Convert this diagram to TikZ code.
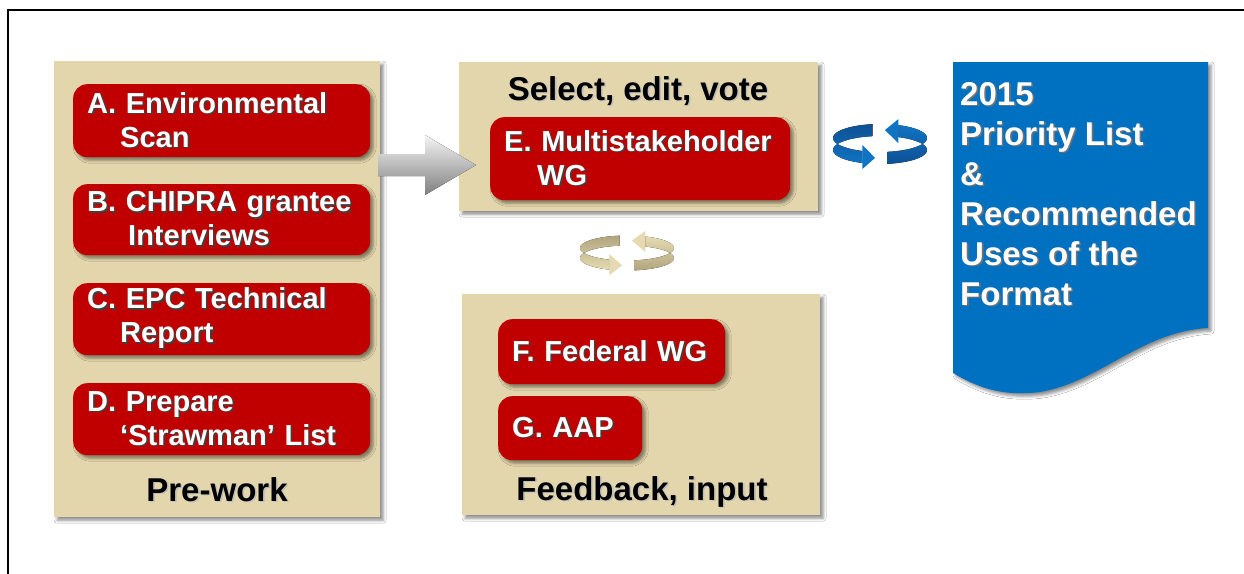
\documentclass[tikz,border=0pt]{standalone}
\usepackage{fontspec}
\setmainfont{Liberation Sans}
\usetikzlibrary{shadows.blur,calc}
\definecolor{boxred}{RGB}{192,0,0}
\definecolor{beige}{RGB}{227,214,172}
\definecolor{docblue}{RGB}{0,112,192}
\definecolor{bluedark}{RGB}{14,80,148}
\definecolor{bluelight}{RGB}{16,116,196}
\definecolor{beigedark}{RGB}{176,165,125}
\definecolor{beigelight}{RGB}{230,218,178}
\newcommand\shd[2]{\leavevmode\rlap{\kern1.6pt\raisebox{-1.6pt}{\textcolor{#1}{#2}}}#2}
% cycle icon: cx cy rx ry h e dark light
\newcommand\cycicon[8]{%
  \fill[top color=#7, bottom color=#8]
    plot[domain=261:112,samples=40,variable=\t] ({#1+#3*cos(\t)},{#2+#4*sin(\t)})
    -- plot[domain=112:261,samples=40,variable=\t] ({#1+#3*cos(\t)},{#2+#5+#4*sin(\t)}) -- cycle;
  \fill[#8] ({#1+#3*cos(112)},{#2+#4*sin(112)-#6})
    -- ({#1+#3*cos(112)},{#2+#4*sin(112)+#5+#6})
    -- ({#1+#3*cos(96)},{#2+#4*sin(96)+#5/2}) -- cycle;
  \fill[top color=#8, bottom color=#7]
    plot[domain=81:-67,samples=40,variable=\t] ({#1+#3*cos(\t)},{#2+#4*sin(\t)})
    -- plot[domain=-67:81,samples=40,variable=\t] ({#1+#3*cos(\t)},{#2+#5+#4*sin(\t)}) -- cycle;
  \fill[#8] ({#1+#3*cos(-67)},{#2+#4*sin(-67)-#6})
    -- ({#1+#3*cos(-67)},{#2+#4*sin(-67)+#5+#6})
    -- ({#1+#3*cos(-84)},{#2+#4*sin(-84)+#5/2}) -- cycle;
}
\begin{document}
\begin{tikzpicture}[x=1pt,y=-1pt,
  pshadow/.style={blur shadow={shadow xshift=3pt,shadow yshift=-3pt,shadow blur radius=3pt,shadow opacity=45}},
  bgbox/.style={rectangle,fill=beige,draw=none,anchor=north west,inner sep=0pt,pshadow},
  redbox/.style={rectangle,fill=boxred,rounded corners=14pt,anchor=north west,inner xsep=14pt,inner ysep=0pt,
    align=left,text=white,font=\fontsize{29}{34}\selectfont\bfseries,pshadow},
  title/.style={anchor=base,inner sep=0pt,text=black,font=\fontsize{33}{38}\selectfont\bfseries},
  doctext/.style={anchor=north west,inner sep=0pt,align=left,text=white,font=\fontsize{33}{40}\selectfont\bfseries}
]
\useasboundingbox (0,0) rectangle (1244,573);
\fill[white] (0,0) rectangle (1244,573);
% frame
\draw[line width=2pt] (8,580) -- (8,10) -- (1250,10);

% background panels
\node[bgbox,minimum width=326pt,minimum height=456pt] (pre) at (54,61) {};
\node[bgbox,minimum width=359pt,minimum height=149pt] (sel) at (459,62) {};
\node[bgbox,minimum width=358pt,minimum height=221pt] (fb) at (462,294) {};

% grey block arrow from pre-work to select
\coordinate (gs) at ($(pre.north east)+(-2,104)$);
\coordinate (gt) at ($(sel.north west)+(17,103)$);
\fill[top color=white!96!black,bottom color=black!50]
  ($(gs)+(0,-11)$) -- ($(gt)+(-51,-11)$) -- ($(gt)+(-51,-30)$) -- (gt)
  -- ($(gt)+(-51,30)$) -- ($(gt)+(-51,11)$) -- ($(gs)+(0,11)$) -- cycle;

% red boxes
\node[redbox,text width=269pt,minimum height=73pt] (A) at (73,84)
  {\shd{black!75}{A. Environmental}\\\hspace*{33pt}\shd{black!75}{Scan}};
\node[redbox,text width=269pt,minimum height=71pt] (B) at (73,184)
  {\shd{black!75}{B. CHIPRA grantee}\\\hspace*{41pt}\shd{black!75}{Interviews}};
\node[redbox,text width=269pt,minimum height=72pt] (C) at (73,283)
  {\shd{black!75}{C. EPC Technical}\\\hspace*{33pt}\shd{black!75}{Report}};
\node[redbox,text width=269pt,minimum height=72pt] (D) at (73,383)
  {\shd{black!75}{D. Prepare}\\\hspace*{33pt}\shd{black!75}{‘Strawman’ List}};
\node[redbox,text width=272pt,minimum height=83pt] (E) at (490,117)
  {\shd{black!75}{E. Multistakeholder}\\\hspace*{33pt}\shd{black!75}{WG}};
\node[redbox,text width=199pt,minimum height=65pt] (F) at (498,319)
  {\shd{black!75}{F. Federal WG}};
\node[redbox,text width=116pt,minimum height=64pt] (G) at (498,396)
  {\shd{black!75}{G. AAP}};

% panel titles
\node[title] (tsel) at (638,100) {\shd{black!25}{Select, edit, vote}};
\node[title] (tpre) at (217,501) {\shd{black!25}{Pre-work}};
\node[title] (tfb) at (642,500) {\shd{black!25}{Feedback, input}};

% document shape
\fill[docblue,pshadow] (953,62) -- (1208,62) -- (1208,328)
  .. controls (1140,332) and (1100,382) .. (1040,392)
  .. controls (1000,397) and (975,386) .. (953,373) -- cycle;
\node[doctext] (doc) at (960,82)
  {\shd{black!55}{2015}\\\shd{black!55}{Priority List}\\\shd{black!55}{\&}\\\shd{black!55}{Recommended}\\\shd{black!55}{Uses of the}\\\shd{black!55}{Format}};

% cycle icons
\cycicon{880}{138}{47}{14}{12}{6}{bluedark}{bluelight}
\cycicon{627}{248}{47}{12.5}{10}{5.5}{beigedark}{beigelight}
\end{tikzpicture}
\end{document}
